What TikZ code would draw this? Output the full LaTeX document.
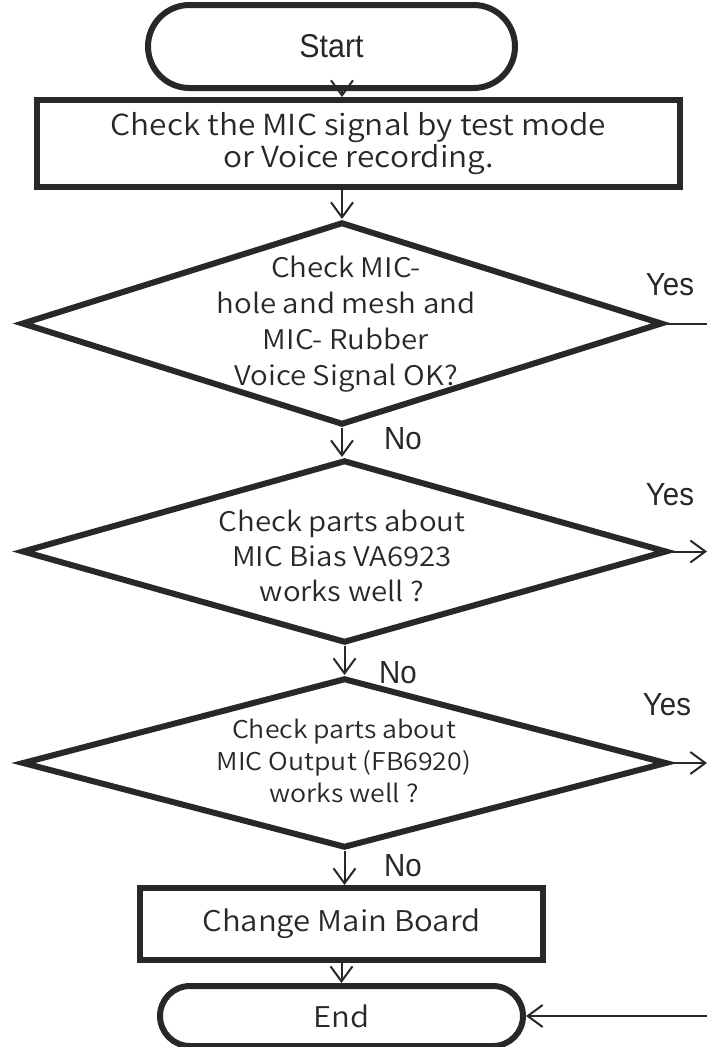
\documentclass[tikz,border=0pt]{standalone}
\usepackage{fontspec}
\setmainfont{Noto Sans CJK KR}[UprightFont=* DemiLight, FakeStretch=1.09]
\newfontfamily\arialfont{Liberation Sans}[FakeStretch=0.92]
\usetikzlibrary{arrows.meta,positioning,shapes.geometric,shapes.misc,calc}
\definecolor{inkgray}{RGB}{40,40,40}

\tikzset{
  terminal/.style={rounded rectangle, draw=inkgray, line width=6pt, inner sep=0pt},
  process/.style={rectangle, draw=inkgray, line width=6pt, inner sep=0pt, align=center},
  decision/.style={diamond, draw=inkgray, line width=6pt, inner sep=0pt},
  qtext/.style={align=center, inner sep=0pt},
  yesno/.style={font=\arialfont\fontsize{32}{34}\selectfont, inner sep=0pt},
  arr/.style={-{Straight Barb[length=15pt,width=22pt,line width=2pt]}, line width=2pt, draw=inkgray},
  flat/.style={line width=2pt, draw=inkgray}
}

\begin{document}
\begin{tikzpicture}[x=1pt, y=1pt, text=inkgray]
  \useasboundingbox (0,0) rectangle (707,-1047);
  % boxes
  \node[terminal, minimum width=367pt, minimum height=83pt, font=\arialfont\fontsize{33}{34}\selectfont] (start) at (331.5,-46.5) {Start};
  \node[process, minimum width=643pt, minimum height=87pt, font=\fontsize{29}{32}\selectfont] (check) at (358.5,-143.5)
    {Check the MIC signal by test mode\\or Voice recording.};
  \node[decision, minimum width=641pt, minimum height=203pt] (hole) at (342,-323.5) {};
  \node[qtext, font=\fontsize{27}{36}\selectfont] (holetxt) at (346,-324)
    {Check MIC-\\hole and mesh and\\MIC- Rubber\\Voice Signal OK?};
  \node[decision, minimum width=645pt, minimum height=183pt] (bias) at (344.5,-551.5) {};
  \node[qtext, font=\fontsize{27}{35}\selectfont] (biastxt) at (342,-556)
    {Check parts about\\MIC Bias VA6923\\works well ?};
  \node[decision, minimum width=645pt, minimum height=170pt] (outp) at (344.5,-763) {};
  \node[qtext, font=\fontsize{24.5}{32}\selectfont] (outptxt) at (344,-761)
    {Check parts about\\MIC Output (FB6920)\\works well ?};
  \node[process, minimum width=403pt, minimum height=72pt, font=\fontsize{28.5}{32}\selectfont] (board) at (341.5,-924)
    {Change Main Board};
  \node[terminal, minimum width=363pt, minimum height=60pt, font=\fontsize{28.5}{30}\selectfont] (end) at (341.5,-1016) {End};

  % loose ends on the right
  \coordinate (yes1) at (707,-323.5);
  \coordinate (yes2) at (707,-551.5);
  \coordinate (yes3) at (707,-763);
  \coordinate (back) at (707,-1016);

  % connectors
  \draw[arr] (start.south -| hole.north) -- (hole.north |- check.north);
  \draw[arr] (hole.north |- check.south) -- (hole.north);
  \draw[arr] (hole.south) -- (hole.south |- bias.north);
  \draw[arr] (bias.south) -- (bias.south |- outp.north);
  \draw[arr] (outp.south) -- (outp.south |- board.north);
  \draw[arr] (board.south) -- (board.south |- end.north);
  \draw[flat] (hole.east) -- (yes1);
  \draw[arr] (bias.east) -- (yes2);
  \draw[arr] (outp.east) -- (yes3);
  \draw[arr] (back) -- (end.east);

  % labels
  \node[yesno] (yeslab1) at (670,-285) {Yes};
  \node[yesno] (nolab1) at (403,-439) {No};
  \node[yesno] (yeslab2) at (670,-495) {Yes};
  \node[yesno] (nolab2) at (398,-673) {No};
  \node[yesno] (yeslab3) at (667,-705) {Yes};
  \node[yesno] (nolab3) at (403,-866) {No};
\end{tikzpicture}
\end{document}
